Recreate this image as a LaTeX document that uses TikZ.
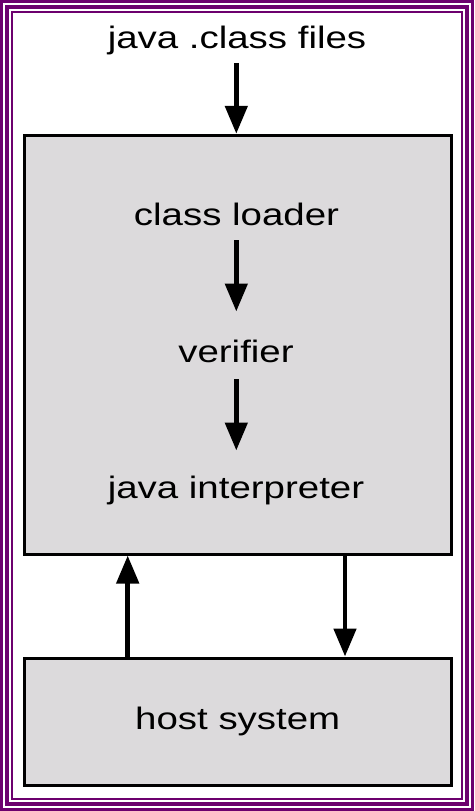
\documentclass[tikz,border=0pt]{standalone}
\usepackage{fontspec}
\setmainfont{Liberation Sans}[FakeStretch=1.24]
\usetikzlibrary{arrows.meta}
\definecolor{framepurple}{RGB}{108,0,110}
\definecolor{boxgray}{RGB}{220,218,220}
\tikzset{
  frame/.style={draw=framepurple},
  bigbox/.style={draw=black, line width=3pt, fill=boxgray, rectangle, inner sep=0pt},
  label/.style={inner sep=0pt, text height=22pt, text depth=7pt, anchor=base,
    font=\fontsize{31}{37}\selectfont},
  arr/.style={line width=4.8pt, -{Triangle[width=22pt,length=28pt]}},
}
\begin{document}
\begin{tikzpicture}[x=1pt,y=-1pt]
\useasboundingbox (0,0) rectangle (474,811);
\fill[white] (0,0) rectangle (474,811);
% triple purple frame
\draw[frame, line width=3.4pt] (1.7,1.7) rectangle (472.3,809.3);
\draw[frame, line width=3.8pt] (7.3,7.3) rectangle (466.7,803.7);
\draw[frame, line width=2pt] (12.2,12.2) rectangle (461.8,798.8);

% main box
\node[bigbox, minimum width=426.5pt, minimum height=418.7pt] (main) at (237.75,344.65) {};
% host box
\node[bigbox, minimum width=426.5pt, minimum height=127.3pt,
      font=\fontsize{31}{37}\selectfont, text height=22pt, text depth=7pt] (host) at (237.75,721.65) {host system};

% labels
\node[label] (files) at (237,48) {java .class files};
\node[label] (loader) at (236.5,225) {class loader};
\node[label] (verifier) at (236,362.7) {verifier};
\node[label] (interp) at (236,498) {java interpreter};

% arrows
\draw[arr, shorten <=7.7pt] (files.south -| 236.3,0) -- (236.3,0 |- main.north);
\draw[arr, shorten <=8pt, shorten >=29pt] (loader.south -| 236.3,0) -- (236.3,0 |- verifier.north);
\draw[arr, shorten <=9.3pt, shorten >=25.3pt] (verifier.south -| 236.3,0) -- (236.3,0 |- interp.north);

\coordinate (upx) at (127.7,0);
\coordinate (downx) at (345,0);
\draw[arr] (upx |- host.north) -- (upx |- main.south);
\draw[arr] (downx |- main.south) -- (downx |- host.north);
\end{tikzpicture}
\end{document}
